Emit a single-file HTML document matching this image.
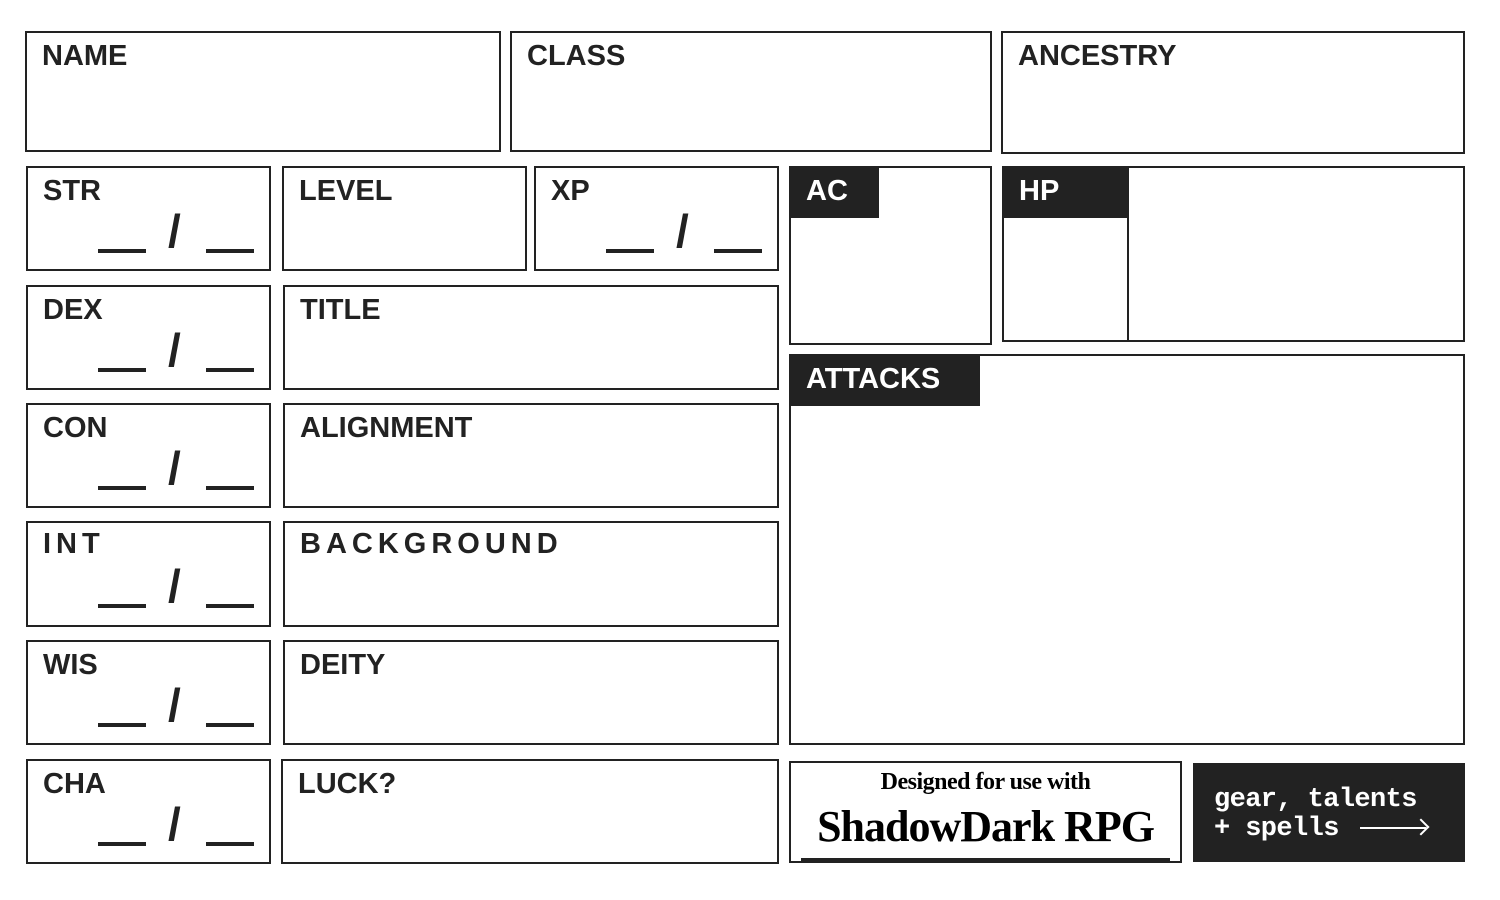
<!DOCTYPE html><html><head><style>
body{margin:0;width:1500px;height:900px;background:#fff;position:relative;overflow:hidden;font-family:"Liberation Sans",sans-serif;}
.b{position:absolute;border:2px solid #222;box-sizing:border-box;}
.l{position:absolute;left:15px;top:7px;font-weight:bold;font-size:29px;letter-spacing:0px;color:#222;}
.t{position:absolute;left:0;top:0;background:#222;color:#fff;font-weight:bold;font-size:29px;letter-spacing:0px;padding:7px 0 0 15px;box-sizing:border-box;height:50px;}
.u{position:absolute;height:4px;background:#222;width:48px;top:81px;}
.s{position:absolute;left:140px;top:36px;font-size:46px;font-weight:bold;color:#222;}
</style></head><body>
<div class="b" style="left:25px;top:31px;width:476px;height:121px"><div class="l">NAME</div></div>
<div class="b" style="left:510px;top:31px;width:482px;height:121px"><div class="l">CLASS</div></div>
<div class="b" style="left:1001px;top:31px;width:464px;height:123px"><div class="l">ANCESTRY</div></div>

<div class="b" style="left:26px;top:166px;width:245px;height:105px"><div class="l">STR</div><div class="u" style="left:70px"></div><div class="s">/</div><div class="u" style="left:178px"></div></div>
<div class="b" style="left:26px;top:285px;width:245px;height:105px"><div class="l">DEX</div><div class="u" style="left:70px"></div><div class="s">/</div><div class="u" style="left:178px"></div></div>
<div class="b" style="left:26px;top:403px;width:245px;height:105px"><div class="l">CON</div><div class="u" style="left:70px"></div><div class="s">/</div><div class="u" style="left:178px"></div></div>
<div class="b" style="left:26px;top:521px;width:245px;height:106px"><div class="l" style="letter-spacing:5px;top:5px">INT</div><div class="u" style="left:70px"></div><div class="s">/</div><div class="u" style="left:178px"></div></div>
<div class="b" style="left:26px;top:640px;width:245px;height:105px"><div class="l">WIS</div><div class="u" style="left:70px"></div><div class="s">/</div><div class="u" style="left:178px"></div></div>
<div class="b" style="left:26px;top:759px;width:245px;height:105px"><div class="l">CHA</div><div class="u" style="left:70px"></div><div class="s">/</div><div class="u" style="left:178px"></div></div>

<div class="b" style="left:282px;top:166px;width:245px;height:105px"><div class="l">LEVEL</div></div>
<div class="b" style="left:534px;top:166px;width:245px;height:105px"><div class="l">XP</div><div class="u" style="left:70px"></div><div class="s">/</div><div class="u" style="left:178px"></div></div>
<div class="b" style="left:283px;top:285px;width:496px;height:105px"><div class="l">TITLE</div></div>
<div class="b" style="left:283px;top:403px;width:496px;height:105px"><div class="l">ALIGNMENT</div></div>
<div class="b" style="left:283px;top:521px;width:496px;height:106px"><div class="l" style="letter-spacing:5px;top:5px">BACKGROUND</div></div>
<div class="b" style="left:283px;top:640px;width:496px;height:105px"><div class="l">DEITY</div></div>
<div class="b" style="left:281px;top:759px;width:498px;height:105px"><div class="l">LUCK?</div></div>

<div class="b" style="left:789px;top:166px;width:203px;height:179px"><div class="t" style="width:88px">AC</div></div>
<div class="b" style="left:1002px;top:166px;width:463px;height:176px"><div class="t" style="width:124px">HP</div><div style="position:absolute;left:123px;top:0;width:2px;height:172px;background:#222"></div></div>
<div class="b" style="left:789px;top:354px;width:676px;height:391px"><div class="t" style="width:189px">ATTACKS</div></div>

<div class="b" style="left:789px;top:761px;width:393px;height:102px;overflow:hidden">
<div style="position:absolute;left:0;width:100%;top:6px;text-align:center;font-family:'Liberation Serif',serif;font-weight:bold;font-size:24px;letter-spacing:-0.5px">Designed for use with</div>
<div style="position:absolute;left:0;width:100%;top:38px;text-align:center;font-family:'Liberation Serif',serif;font-weight:bold;font-size:44px;letter-spacing:-1px">ShadowDark RPG</div>
<div style="position:absolute;left:10px;right:10px;bottom:0;height:3px;background:#222"></div>
</div>
<div style="position:absolute;left:1193px;top:763px;width:272px;height:99px;background:#222;color:#fff;font-family:'Liberation Mono',monospace;font-weight:bold;font-size:27px;line-height:29px;padding:23px 0 0 21px;box-sizing:border-box;letter-spacing:-0.6px">gear, talents<br>+ spells <span style="display:inline-block;width:66px;height:2px;background:#fff;vertical-align:middle;margin-left:6px;position:relative"><span style="position:absolute;right:-1px;top:-6px;width:10px;height:10px;border-top:2px solid #fff;border-right:2px solid #fff;transform:rotate(45deg)"></span></span></div>
</body></html>
